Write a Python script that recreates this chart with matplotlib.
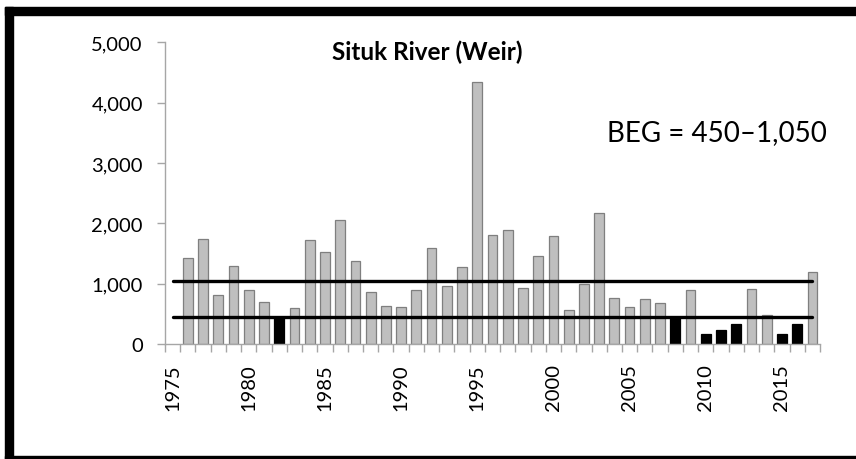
import numpy as np
import matplotlib
matplotlib.use("Agg")
import matplotlib.pyplot as plt
from matplotlib.patches import Rectangle
from matplotlib.ticker import FuncFormatter, FixedLocator

# Situk River weir escapement
years = list(range(1976, 2018))
escapement = [1420, 1735, 807, 1288, 900, 702, 440, 591, 1724, 1525,
              2060, 1381, 867, 635, 619, 889, 1591, 956, 1271, 4337,
              1806, 1884, 923, 1458, 1784, 558, 989, 2171, 757, 613,
              751, 674, 435, 895, 160, 238, 326, 911, 481, 171,
              326, 1188]
beg_low = 450
beg_high = 1050
line_years = [1975, 2017]
label_years = [1975, 1980, 1985, 1990, 1995, 2000, 2005, 2010, 2015]

plt.rcParams['font.family'] = ['Lato', 'DejaVu Sans']

W, H = 856, 460
fig = plt.figure(figsize=(W / 100, H / 100), dpi=100)
ax = fig.add_axes([165 / W, 1 - 345 / H, (820 - 165) / W, (345 - 43.3) / H])

colors = ['black' if v < beg_low else '#bfbfbf' for v in escapement]
edges = ['black' if v < beg_low else '#7f7f7f' for v in escapement]
ax.bar(years, escapement, width=0.64, color=colors, edgecolor=edges, linewidth=0.9, zorder=2)

ax.plot(line_years, [beg_high] * 2, color='black', lw=2.4, solid_capstyle='round', zorder=3)
ax.plot(line_years, [beg_low] * 2, color='black', lw=2.4, solid_capstyle='round', zorder=3)

ax.set_xlim(1974.5, 2017.5)
ax.set_ylim(0, 5000)
ax.set_yticks(np.arange(0, 5001, 1000))
ax.yaxis.set_major_formatter(FuncFormatter(lambda v, p: f"{int(v):,}"))

ax.xaxis.set_major_locator(FixedLocator(np.arange(1974.5, 2018, 1)))
ax.xaxis.set_minor_locator(FixedLocator(label_years))
ax.xaxis.set_major_formatter(FuncFormatter(lambda v, p: ""))
ax.xaxis.set_minor_formatter(FuncFormatter(lambda v, p: str(int(round(v)))))
ax.tick_params(axis='x', which='major', length=6, color='#a6a6a6', width=1)
ax.tick_params(axis='x', which='minor', length=0, pad=14, labelsize=14.5, labelrotation=90)
ax.tick_params(axis='y', length=6, color='#a6a6a6', width=1, pad=10, labelsize=14.5)

for side in ['top', 'right']:
    ax.spines[side].set_visible(False)
for side in ['left', 'bottom']:
    ax.spines[side].set_color('#a6a6a6')
    ax.spines[side].set_linewidth(1)

fig.text(427 / W, 1 - 52 / H, "Situk River (Weir)", ha='center', va='center',
         fontsize=17.5, fontweight='bold')
fig.text(717 / W, 1 - 133 / H, "BEG = 450\u20131,050", ha='center', va='center',
         fontsize=20)

# thick black frame (cropped on the right)
for x0, y0, w, h in [(5, 8, 8, 452), (5, 8, 851, 8), (5, 457, 851, 3)]:
    fig.patches.append(Rectangle((x0 / W, 1 - (y0 + h) / H), w / W, h / H,
                                 transform=fig.transFigure, color='black', zorder=10))

fig.savefig("out.png", dpi=100)
